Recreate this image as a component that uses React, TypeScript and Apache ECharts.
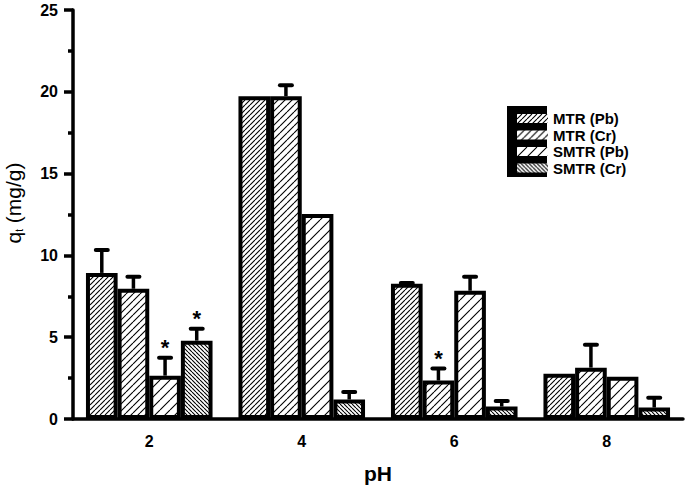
import React, { useEffect, useRef } from "react";
import * as echarts from "echarts";

const categories = ["2", "4", "6", "8"];
const seriesNames = ["MTR (Pb)", "MTR (Cr)", "SMTR (Pb)", "SMTR (Cr)"];

const mtrPb = [8.93, 19.73, 8.26, 2.77];
const mtrCr = [7.96, 19.73, 2.35, 3.14];
const smtrPb = [2.65, 12.53, 7.84, 2.59];
const smtrCr = [4.79, 1.19, 0.76, 0.7];

const mtrPbErr = [1.4, 0, 0.05, 0];
const mtrCrErr = [0.73, 0.67, 0.73, 1.4];
const smtrPbErr = [1.1, 0, 0.85, 0];
const smtrCrErr = [0.73, 0.46, 0.34, 0.6];

const mtrPbStar = [0, 0, 0, 0];
const mtrCrStar = [0, 0, 1, 0];
const smtrPbStar = [1, 0, 0, 0];
const smtrCrStar = [1, 0, 0, 0];

const yTicks = { min: 0, max: 25, interval: 5 };

const FONT = "Arial, 'Liberation Sans', sans-serif";

function makePattern(d: number, dir: number) {
  const c = document.createElement("canvas");
  c.width = d;
  c.height = d;
  const ctx = c.getContext("2d")!;
  ctx.fillStyle = "#fff";
  ctx.fillRect(0, 0, d, d);
  ctx.strokeStyle = "#000";
  ctx.lineWidth = 1.1;
  ctx.beginPath();
  for (const k of [-1, 0, 1]) {
    if (dir === 1) {
      ctx.moveTo(k * d, d);
      ctx.lineTo(k * d + d, 0);
    } else {
      ctx.moveTo(k * d, 0);
      ctx.lineTo(k * d + d, d);
    }
  }
  ctx.stroke();
  return { image: c, repeat: "repeat", imageWidth: d, imageHeight: d } as any;
}

export default function App() {
  const ref = useRef<HTMLDivElement>(null);
  useEffect(() => {
    if (!ref.current) return;
    const chart = echarts.init(ref.current, null, { renderer: "svg" });
    const patterns = [makePattern(5, 1), makePattern(7, 1), makePattern(10, 1), makePattern(4, -1)];
    const values = [mtrPb, mtrCr, smtrPb, smtrCr];
    const errs = [mtrPbErr, mtrCrErr, smtrPbErr, smtrCrErr];
    const stars = [mtrPbStar, mtrCrStar, smtrPbStar, smtrCrStar];
    const gapRatio = 0.17;

    const barSeries = seriesNames.map((name, i) => ({
      name,
      type: "bar",
      barGap: "0%",
      barCategoryGap: "17%",
      data: values[i],
      itemStyle: { color: patterns[i], borderColor: "#000", borderWidth: 4 },
      z: 2,
    }));

    const errSeries = seriesNames.map((name, i) => ({
      type: "custom",
      name: name + " err",
      z: 5,
      encode: { x: 0, y: 1 },
      data: categories.map((_, j) => [j, values[i][j], errs[i][j], stars[i][j]]),
      renderItem: (params: any, api: any) => {
        const idx = api.value(0);
        const v = api.value(1);
        const e = api.value(2);
        const s = api.value(3);
        const band = api.size([1, 0])[0];
        const groupW = band * (1 - gapRatio);
        const bw = groupW / 4;
        const cx = api.coord([idx, 0])[0] - groupW / 2 + bw * (i + 0.5);
        const y0 = api.coord([idx, v])[1];
        const y1 = api.coord([idx, v + e])[1];
        const children: any[] = [];
        if (e > 0) {
          children.push({
            type: "line",
            shape: { x1: cx, y1: y0, x2: cx, y2: y1 },
            style: { stroke: "#000", lineWidth: 3.5 },
          });
          children.push({
            type: "line",
            shape: { x1: cx - 6, y1: y1, x2: cx + 6, y2: y1 },
            style: { stroke: "#000", lineWidth: 4, lineCap: "round" },
          });
        }
        if (s) {
          children.push({
            type: "text",
            x: cx,
            y: y1 + 1,
            style: {
              text: "*",
              fontSize: 22,
              fontWeight: "bold",
              fontFamily: FONT,
              fill: "#000",
              align: "center",
              verticalAlign: "bottom",
            },
          });
        }
        return { type: "group", children };
      },
    }));

    chart.setOption({
      animation: false,
      backgroundColor: "#fff",
      grid: { left: 73, right: 2, top: 10, bottom: 69 },
      legend: {
        data: seriesNames,
        orient: "vertical",
        left: 512,
        top: 106,
        itemWidth: 31,
        itemHeight: 9,
        itemGap: 1.5,
        icon: "rect",
        selectedMode: false,
        z: 10,
        itemStyle: { borderWidth: 0 },
        textStyle: {
          fontFamily: FONT,
          fontWeight: "bold",
          fontSize: 15,
          color: "#000",
        },
      },
      graphic: [
        {
          type: "rect",
          z: 0,
          shape: { x: 507, y: 106, width: 40, height: 71 },
          style: { fill: "#000" },
        },
        {
          type: "text",
          x: 13,
          y: 203,
          rotation: Math.PI / 2,
          style: {
            text: "{q|q}{t|t}{r| (mg/g)}",
            align: "center",
            verticalAlign: "middle",
            fill: "#000",
            rich: {
              q: { fontSize: 21, fontFamily: FONT, fill: "#000", lineHeight: 22, verticalAlign: "middle" },
              t: { fontSize: 10, fontFamily: FONT, fill: "#000", lineHeight: 22, verticalAlign: "bottom" },
              r: { fontSize: 21, fontFamily: FONT, fill: "#000", lineHeight: 22, verticalAlign: "middle" },
            },
          },
        },
      ],
      xAxis: {
        type: "category",
        data: categories,
        name: "pH",
        nameLocation: "middle",
        nameGap: 44,
        nameTextStyle: { fontFamily: FONT, fontWeight: "bold", fontSize: 21, color: "#000" },
        axisLine: { lineStyle: { color: "#000", width: 3.5 } },
        axisTick: { alignWithLabel: true, length: 10, lineStyle: { color: "#000", width: 3.5 } },
        axisLabel: { fontFamily: FONT, fontWeight: "bold", fontSize: 16, color: "#000", margin: 14 },
        splitLine: { show: false },
      },
      yAxis: {
        type: "value",
        min: yTicks.min,
        max: yTicks.max,
        interval: yTicks.interval,
        axisLine: { show: true, lineStyle: { color: "#000", width: 3.5 } },
        axisTick: { show: true, length: 9, lineStyle: { color: "#000", width: 3.5 } },
        minorTick: { show: true, splitNumber: 2, length: 5, lineStyle: { color: "#000", width: 3.5 } },
        axisLabel: { fontFamily: FONT, fontWeight: "bold", fontSize: 16, color: "#000", margin: 15 },
        splitLine: { show: false },
        minorSplitLine: { show: false },
      },
      series: [...barSeries, ...errSeries],
    } as any);
    return () => chart.dispose();
  }, []);
  return (
    <div
      ref={ref}
      style={{ position: "absolute", left: 0, top: 0, width: 685, height: 489 }}
    />
  );
}
